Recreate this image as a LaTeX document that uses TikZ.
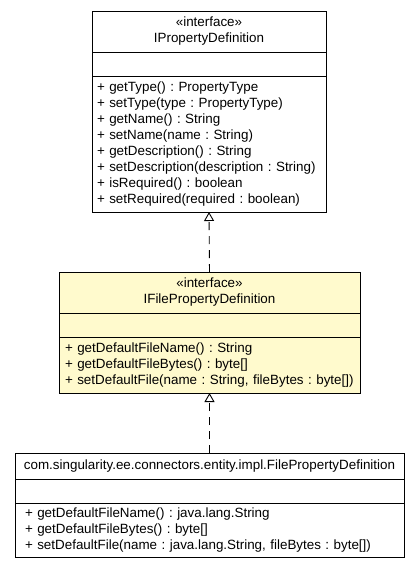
\documentclass[tikz,border=0pt]{standalone}
\usepackage{fontspec}
\setmainfont{Liberation Sans}
\usetikzlibrary{positioning, arrows.meta}
\definecolor{lemon}{HTML}{FFFACD}
\newcommand{\umlfont}{\fontsize{13.4}{16}\selectfont\frenchspacing}
\tikzset{
  compart/.style = {draw, line width=0.9pt, inner sep=0pt, outer sep=0pt,
                    font=\umlfont, align=center},
  opslist/.style = {compart, align=left},
  hilite/.style  = {fill=lemon},                    % the documented class
  realize/.style = {dash pattern=on 8pt off 6pt, line width=0.9pt,
                    -{Triangle[open, length=9pt, width=10pt, line width=0.9pt]}},
}

\begin{document}
\begin{tikzpicture}[x=1pt, y=-1pt]
  \useasboundingbox (0,0) rectangle (419,571);

  % IPropertyDefinition
  \node[compart, minimum width=234pt, minimum height=41pt] at (209,31.5) (ipdname)
       {«interface»\\IPropertyDefinition};
  \node[compart, minimum width=234pt, minimum height=24pt, below=0pt of ipdname] (ipdattr) {};
  \node[opslist, text width=224pt, inner xsep=5pt, minimum height=136pt, below=0pt of ipdattr] (ipdops)
       {+ getType() : PropertyType\\
        + setType(type : PropertyType)\\
        + getName() : String\\
        + setName(name : String)\\
        + getDescription() : String\\
        + setDescription(description : String)\\
        + isRequired() : boolean\\
        + setRequired(required : boolean)};

  % IFilePropertyDefinition
  \node[compart, hilite, minimum width=301pt, minimum height=41pt] at (209.5,292.5) (ifpdname)
       {«interface»\\IFilePropertyDefinition};
  \node[compart, hilite, minimum width=301pt, minimum height=24pt, below=0pt of ifpdname] (ifpdattr) {};
  \node[opslist, hilite, text width=289pt, inner xsep=6pt, minimum height=56pt, below=0pt of ifpdattr] (ifpdops)
       {+ getDefaultFileName() : String\\
        + getDefaultFileBytes() : byte[]\\
        + setDefaultFile(name : String, fileBytes : byte[])};

  % FilePropertyDefinition
  \node[compart, minimum width=389pt, minimum height=26pt] at (209.5,466) (fpdname)
       {com.singularity.ee.connectors.entity.impl.FilePropertyDefinition};
  \node[compart, minimum width=389pt, minimum height=24pt, below=0pt of fpdname] (fpdattr) {};
  \node[opslist, text width=369pt, inner xsep=10pt, minimum height=54pt, below=0pt of fpdattr] (fpdops)
       {+ getDefaultFileName() : java.lang.String\\
        + getDefaultFileBytes() : byte[]\\
        + setDefaultFile(name : java.lang.String, fileBytes : byte[])};

  \draw[realize] (ifpdname.north) -- (ipdops.south);
  \draw[realize] (fpdname.north)  -- (ifpdops.south);
\end{tikzpicture}
\end{document}
